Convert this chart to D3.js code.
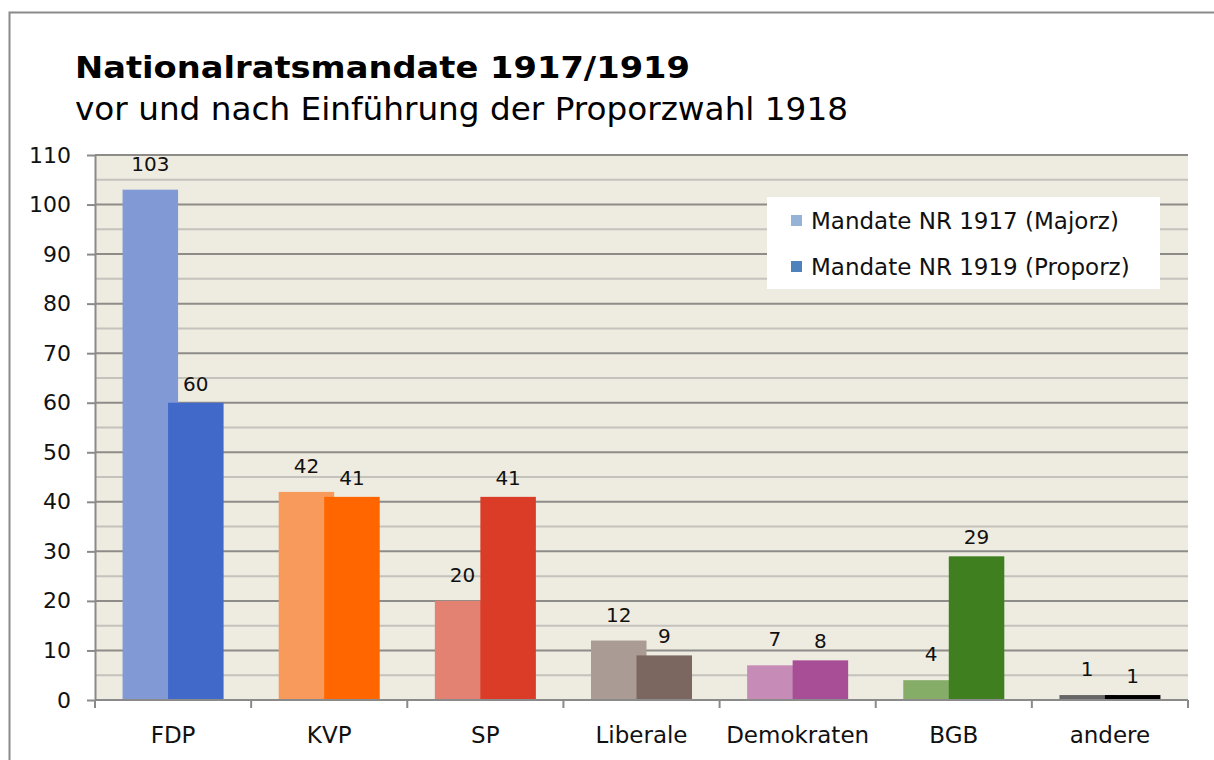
<!DOCTYPE html>
<html>
<head>
<meta charset="utf-8">
<script src="https://cdn.jsdelivr.net/npm/d3@7"></script>
<style>
  body { margin: 0; background: #fff; }
  svg { display: block; font-family: "DejaVu Sans", Verdana, sans-serif; }
</style>
</head>
<body>
<div id="chart"></div>
<script>
// data
var parties = ["FDP", "KVP", "SP", "Liberale", "Demokraten", "BGB", "andere"];
var seriesNames = ["Mandate NR 1917 (Majorz)", "Mandate NR 1919 (Proporz)"];
var mandate1917 = [103, 42, 20, 12, 7, 4, 1];
var mandate1919 = [60, 41, 41, 9, 8, 29, 1];
var yTicks = [0, 10, 20, 30, 40, 50, 60, 70, 80, 90, 100, 110];

// colours (per party, per series)
var colors1917 = ["#8199d4", "#f79a5b", "#e38273", "#aa9c94", "#c68bb6", "#86ad68", "#666666"];
var colors1919 = ["#4169c9", "#ff6600", "#da3c28", "#7c6660", "#a74e97", "#3f7f1f", "#000000"];
var legendColors = ["#95b3d7", "#4f81bd"];

var width = 1214, height = 760;
var margin = {top: 155, right: 26, bottom: 60, left: 95};
var plotW = width - margin.left - margin.right;
var plotH = height - margin.top - margin.bottom;

var svg = d3.select("#chart").append("svg")
    .attr("width", width)
    .attr("height", height);

// outer frame
svg.append("rect")
    .attr("x", 9.5).attr("y", 12.5)
    .attr("width", 1230).attr("height", 780)
    .attr("fill", "#fff")
    .attr("stroke", "#8a8a8a")
    .attr("stroke-width", 2);

svg.append("text")
    .attr("x", 75).attr("y", 78)
    .attr("textLength", 615).attr("lengthAdjust", "spacingAndGlyphs")
    .style("font-size", "31px").style("font-weight", "bold")
    .text("Nationalratsmandate 1917/1919");

svg.append("text")
    .attr("x", 75).attr("y", 120)
    .attr("textLength", 773).attr("lengthAdjust", "spacingAndGlyphs")
    .style("font-size", "32px")
    .text("vor und nach Einführung der Proporzwahl 1918");

var g = svg.append("g")
    .attr("transform", "translate(" + margin.left + "," + margin.top + ")");

var y = d3.scaleLinear().domain([0, 110]).range([plotH, 0]);
var x0 = d3.scaleBand().domain(parties).range([0, plotW])
    .paddingInner(0.353).paddingOuter(0.1765);

var overlap = 0.18;
var bw = x0.bandwidth() / (2 - overlap);

g.append("rect")
    .attr("width", plotW).attr("height", plotH)
    .attr("fill", "#eeebe0");

// minor grid (every 5)
g.selectAll(".minor")
    .data(d3.range(5, 110, 10))
    .enter().append("line")
    .attr("x1", 0).attr("x2", plotW)
    .attr("y1", function(d) { return y(d); })
    .attr("y2", function(d) { return y(d); })
    .attr("stroke", "#c4c2bc").attr("stroke-width", 2);

// major grid
g.selectAll(".major")
    .data(yTicks.slice(1))
    .enter().append("line")
    .attr("x1", 0).attr("x2", plotW)
    .attr("y1", function(d) { return y(d); })
    .attr("y2", function(d) { return y(d); })
    .attr("stroke", "#8e8c88").attr("stroke-width", 2);

// bars
var rows = parties.map(function(p, i) {
  return {party: p, i: i, v: [mandate1917[i], mandate1919[i]]};
});

var groups = g.selectAll(".grp")
    .data(rows)
    .enter().append("g")
    .attr("transform", function(d) { return "translate(" + x0(d.party) + ",0)"; });

groups.append("rect")
    .attr("x", 0)
    .attr("width", bw)
    .attr("y", function(d) { return y(d.v[0]); })
    .attr("height", function(d) { return y(0) - y(d.v[0]); })
    .attr("fill", function(d) { return colors1917[d.i]; });

groups.append("rect")
    .attr("x", bw * (1 - overlap))
    .attr("width", bw)
    .attr("y", function(d) { return y(d.v[1]); })
    .attr("height", function(d) { return y(0) - y(d.v[1]); })
    .attr("fill", function(d) { return colors1919[d.i]; });

// value labels
var labelOffset = [-19, -12];
[0, 1].forEach(function(s) {
  groups.append("text")
      .attr("x", bw / 2 + s * bw * (1 - overlap))
      .attr("y", function(d) { return y(d.v[s]) + labelOffset[s]; })
      .attr("text-anchor", "middle")
      .style("font-size", "20px")
      .attr("fill", "#111")
      .text(function(d) { return d.v[s]; });
});

// y axis
var yAxis = g.append("g")
    .call(d3.axisLeft(y).tickValues(yTicks).tickSize(8).tickPadding(16).tickSizeOuter(0));
yAxis.select(".domain").attr("stroke", "#8a8a8a").attr("stroke-width", 2);
yAxis.selectAll(".tick line").attr("stroke", "#8a8a8a").attr("stroke-width", 2);
yAxis.selectAll("text")
    .style("font-size", "22px").style("font-family", "DejaVu Sans, sans-serif")
    .attr("fill", "#111");

// x axis
var xAxis = g.append("g")
    .attr("transform", "translate(0," + plotH + ")");
xAxis.append("line")
    .attr("x1", 0).attr("x2", plotW)
    .attr("stroke", "#8a8a8a").attr("stroke-width", 2);
xAxis.selectAll(".xt")
    .data(d3.range(parties.length + 1))
    .enter().append("line")
    .attr("x1", function(d) { return d * x0.step(); })
    .attr("x2", function(d) { return d * x0.step(); })
    .attr("y1", 0).attr("y2", 8)
    .attr("stroke", "#8a8a8a").attr("stroke-width", 2);
xAxis.selectAll(".xl")
    .data(parties)
    .enter().append("text")
    .attr("x", function(d) { return x0(d) + x0.bandwidth() / 2; })
    .attr("y", 43)
    .attr("text-anchor", "middle")
    .style("font-size", "23px")
    .attr("fill", "#111")
    .text(function(d) { return d; });

// legend
var legend = svg.append("g").attr("transform", "translate(767,197)");
legend.append("rect")
    .attr("width", 393).attr("height", 92)
    .attr("fill", "#fff");
var li = legend.selectAll(".li")
    .data(seriesNames)
    .enter().append("g")
    .attr("transform", function(d, i) { return "translate(24," + (24 + i * 46) + ")"; });
li.append("rect")
    .attr("x", 0).attr("y", -6)
    .attr("width", 11).attr("height", 11)
    .attr("fill", function(d, i) { return legendColors[i]; });
li.append("text")
    .attr("x", 20).attr("y", 8)
    .style("font-size", "23px")
    .attr("fill", "#111")
    .text(function(d) { return d; });
</script>
</body>
</html>
